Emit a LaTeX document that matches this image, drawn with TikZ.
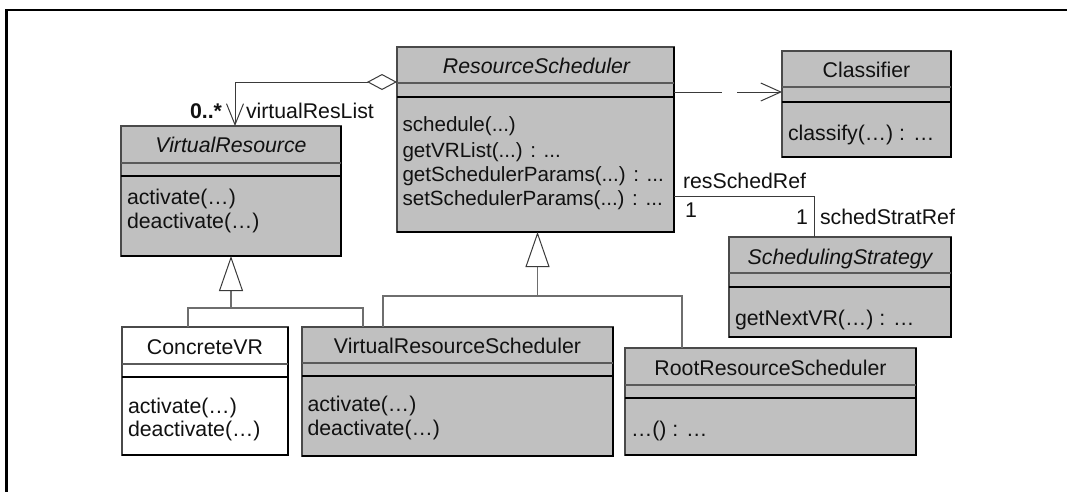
\documentclass[tikz,border=0pt]{standalone}
\usepackage{fontspec}
\setmainfont{Liberation Sans}
\usetikzlibrary{arrows.meta}
\definecolor{boxfill}{HTML}{C0C0C0}
\definecolor{edgegray}{HTML}{4A4A4A}
\definecolor{divgray}{HTML}{5A5A5A}
\definecolor{linkgray}{HTML}{6E6E6E}
\definecolor{linkdark}{HTML}{3A3A3A}
\definecolor{inkblack}{HTML}{111111}

\begin{document}
\begin{tikzpicture}[x=1pt,y=-1pt,
  every node/.style={inner sep=0pt, outer sep=0pt},
  umlbox/.style={draw=edgegray, line width=1.1pt, fill=boxfill, anchor=north west},
  boxshade/.style={draw=black, line width=1.6pt},
  hdiv/.style={draw=divgray, line width=1.1pt},
  adiv/.style={draw=black, line width=1.3pt},
  txt/.style={font=\fontsize{21.3}{25}\selectfont, text=inkblack},
  lbl/.style={txt, anchor=base west},
  oplist/.style={lbl, font=\fontsize{20.6}{25}\selectfont},
  ttl/.style={txt, anchor=base},
  ittl/.style={ttl, font=\fontsize{21.3}{25}\selectfont\itshape},
  assoc/.style={draw=linkdark, line width=1pt},
  dep/.style={draw=linkdark, line width=1pt, dash pattern=on 48pt off 15pt on 300pt off 0pt,
    -{Straight Barb[length=20pt,width=18pt,color=linkdark]}},
  genline/.style={draw=linkgray, line width=1.2pt},
  gentip/.style={-{Triangle[length=35pt,width=24pt,fill=white,color=linkdark,line width=1pt]}},
]
\useasboundingbox (0,0) rectangle (1067,491);

% outer frame (top and left edges)
\draw[line width=2.5pt, line cap=rect] (6.5,491) -- (6.5,10) -- (1067,10);

% ---------- class boxes ----------
\node[umlbox, minimum width=220pt, minimum height=130pt] (VR) at (121,126) {};
\node[umlbox, minimum width=277pt, minimum height=185pt] (RS) at (397,47) {};
\node[umlbox, minimum width=169pt, minimum height=106pt] (CL) at (782,51) {};
\node[umlbox, minimum width=222pt, minimum height=100pt] (SS) at (729,237) {};
\node[umlbox, minimum width=291pt, minimum height=107pt] (RRS) at (625,348) {};
\node[umlbox, minimum width=311pt, minimum height=129pt] (VRS) at (302,327) {};
\node[umlbox, fill=white, minimum width=166pt, minimum height=128pt] (CVR) at (122,327) {};

% darker right and bottom edges
\foreach \b in {VR,RS,CL,SS,RRS,VRS,CVR}
  \draw[boxshade] (\b.north east) -- (\b.south east) -- (\b.south west);

% compartment dividers
\draw[hdiv] (121,163) -- (341,163);  \draw[adiv] (121,176) -- (341,176);
\draw[hdiv] (397,83)  -- (674,83);   \draw[adiv] (397,97)  -- (674,97);
\draw[hdiv] (782,87)  -- (951,87);   \draw[adiv] (782,102) -- (951,102);
\draw[hdiv] (729,273) -- (951,273);  \draw[adiv] (729,287) -- (951,287);
\draw[hdiv] (625,385) -- (916,385);  \draw[adiv] (625,398) -- (916,398);
\draw[hdiv] (302,363) -- (613,363);  \draw[adiv] (302,376) -- (613,376);
\draw[hdiv] (122,364) -- (288,364);  \draw[adiv] (122,377) -- (288,377);

% class names
\node[ittl] (VRt) at (231,152.5) {VirtualResource};
\node[ittl] (RSt) at (536.5,73.5) {ResourceScheduler};
\node[ttl] (CLt) at (866.5,77.3) {Classifier};
\node[ittl] (SSt) at (840,264) {SchedulingStrategy};
\node[ttl] (RRSt) at (770.5,375) {RootResourceScheduler};
\node[ttl] (VRSt) at (457.5,353.3) {VirtualResourceScheduler};
\node[ttl] (CVRt) at (205,354.3) {ConcreteVR};

% operations
\node[lbl] (VRm1) at (127,204) {activate(…)};
\node[lbl] (VRm2) at (127,228.3) {deactivate(…)};
\node[oplist] (RSm1) at (402.5,131.5) {schedule(...)};
\node[oplist] (RSm2) at (402.5,157) {getVRList(...) : ...};
\node[oplist] (RSm3) at (402.5,181.5) {getSchedulerParams(...) : ...};
\node[oplist] (RSm4) at (402.5,205.5) {setSchedulerParams(...) : ...};
\node[lbl] (CLm1) at (788,140) {classify(…) : …};
\node[lbl] (SSm1) at (735,325) {getNextVR(…) : …};
\node[lbl] (RRSm1) at (631,436.7) {…() : …};
\node[lbl] (VRSm1) at (307.5,411.7) {activate(…)};
\node[lbl] (VRSm2) at (307.5,435) {deactivate(…)};
\node[lbl] (CVRm1) at (128,413.3) {activate(…)};
\node[lbl] (CVRm2) at (128,436) {deactivate(…)};

% ---------- connectors ----------
% aggregation ResourceScheduler <>--> VirtualResource
\coordinate (aggS) at ([yshift=-35pt]RS.north west);
\coordinate (aggE) at ([xshift=4pt]VR.north);
\draw[assoc, {Diamond[length=30pt,width=16pt,fill=white,color=linkdark]}-{Straight Barb[length=21pt,width=17pt,color=linkdark]}]
  (aggS) -| (aggE);
\node[lbl, anchor=base east, font=\fontsize{21.3}{25}\selectfont\bfseries] (aggM) at (222,118) {0..*};
\node[lbl] (aggR) at (246,118) {virtualResList};

% dependency ResourceScheduler ---> Classifier
\coordinate (depS) at ([yshift=-45pt]RS.north east);
\draw[dep] (depS) -- (depS -| CL.west);

% association ResourceScheduler -- SchedulingStrategy
\coordinate (asS) at ([yshift=-149pt]RS.north east);
\coordinate (asE) at ([xshift=-26pt]SS.north);
\draw[assoc] (asS) -| (asE);
\node[lbl] (asR1) at (683,188) {resSchedRef};
\node[lbl] (asM1) at (685,217) {1};
\node[lbl, anchor=base east] (asM2) at (808,224) {1};
\node[lbl] (asR2) at (820,224) {schedStratRef};

% generalization to VirtualResource
\coordinate (vrJ) at ([yshift=-52pt]VR.south);
\draw[genline] ([xshift=-17pt]CVR.north) |- (vrJ) -| ([xshift=-94.5pt]VRS.north);
\draw[genline, gentip] (vrJ) -- (VR.south);

% generalization to ResourceScheduler
\coordinate (rsT) at ([xshift=2pt]RS.south);
\coordinate (rsJ) at ([yshift=-64pt]rsT);
\draw[genline] ([xshift=-74.5pt]VRS.north) |- (rsJ) -| ([xshift=-88.5pt]RRS.north);
\draw[genline, gentip] (rsJ) -- (rsT);
\end{tikzpicture}
\end{document}
